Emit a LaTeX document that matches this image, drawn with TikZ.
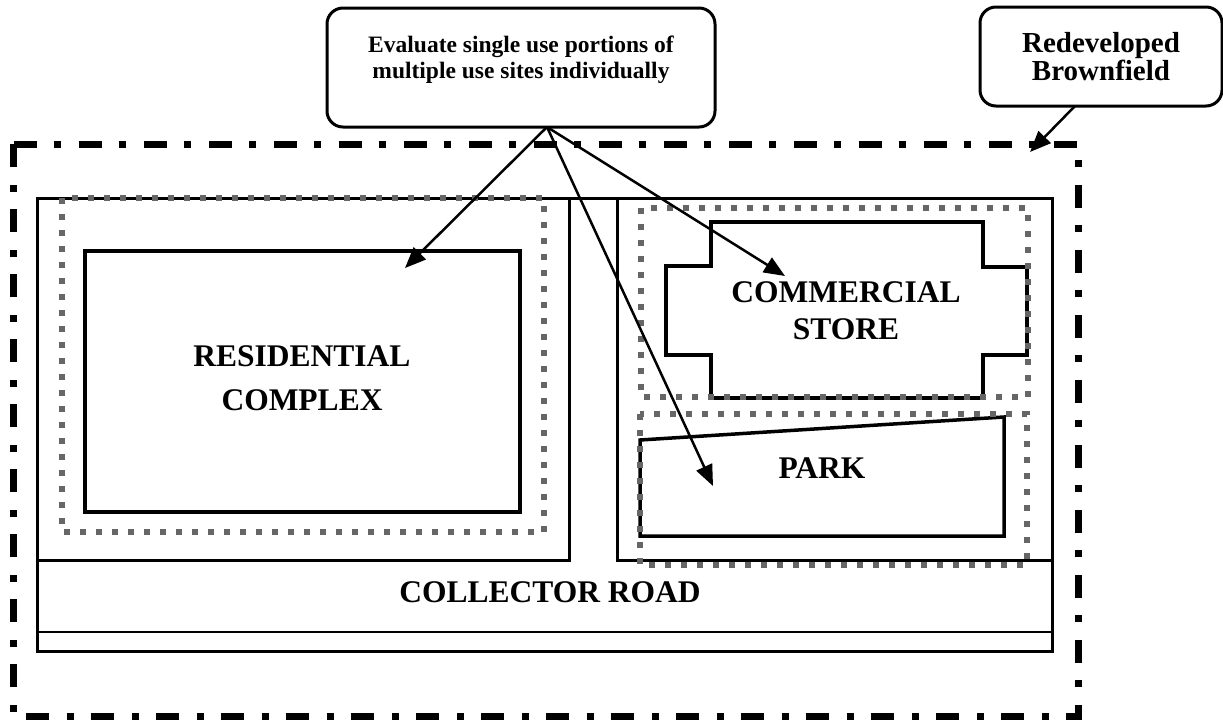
\documentclass[tikz,border=0pt]{standalone}
\usepackage{fontspec}
\setmainfont{Liberation Serif}
\usetikzlibrary{arrows.meta}
\begin{document}
\begin{tikzpicture}[x=1pt,y=-1pt,
  site/.style={line width=3pt},
  bldg/.style={line width=3.5pt, line join=miter},
  hatch/.style={draw=black!60, line width=6pt, dash pattern=on 6pt off 10pt},
  boundary/.style={line width=7pt, dash pattern=on 23pt off 18pt on 7pt off 17pt},
  callout/.style={draw, line width=3pt, rounded corners=16pt},
  lbl/.style={align=center, inner sep=0pt},
  bigfont/.style={font=\bfseries\fontsize{31.5}{44}\selectfont},
  notefont/.style={font=\bfseries\fontsize{23.5}{26}\selectfont},
  pointer/.style={line width=2.5pt, -{Triangle[length=21pt,width=17pt]}}
]
\useasboundingbox (0,0) rectangle (1223,721);

% redeveloped brownfield boundary
\draw[boundary] (13,144) rectangle (1078,716);

% parcels and collector road
\draw[site] (37,651) -- (37,198) -- (1052,198) -- (1052,651) -- cycle;
\draw[site] (37,560) -- (569,560) -- (569,198);
\draw[site] (617,198) -- (617,560) -- (1052,560);
\draw[line width=2.5pt] (37,632) -- (1052,632);

% buildings and park
\draw[bldg] (85,251) rectangle (520,512);
\draw[bldg] (711,222) -- (983,222) -- (983,267) -- (1027,267) -- (1027,355)
  -- (983,355) -- (983,398) -- (711,398) -- (711,355) -- (666,355)
  -- (666,266) -- (711,266) -- cycle;
\draw[bldg] (640,440) -- (1004,417) -- (1004,536) -- (640,536) -- cycle;

% single use portions
\draw[hatch] (62,198) rectangle (544,532);
\draw[hatch] (641,208) rectangle (1028,397);
\draw[hatch] (640,414) rectangle (1027,565);

% labels
\node[lbl, bigfont] (res) at (302,378) {RESIDENTIAL\\COMPLEX};
\node[lbl, font=\bfseries\fontsize{31.5}{37}\selectfont] (com) at (846,311) {COMMERCIAL\\STORE};
\node[lbl, bigfont] (park) at (822,468) {PARK};
\node[lbl, bigfont] (road) at (550,592) {COLLECTOR ROAD};

% callouts
\node[callout, minimum width=388pt, minimum height=119pt] (eval) at (521,67.5) {};
\node[lbl, notefont] (evaltxt) at (521,60) {Evaluate single use portions of\\multiple use sites individually};
\node[callout, minimum width=242pt, minimum height=99pt, align=center,
  font=\bfseries\fontsize{29}{28}\selectfont] (brown) at (1101,56.5) {Redeveloped\\Brownfield};

% pointers
\coordinate (src) at (547,127);
\coordinate (toRes) at (405,268);
\coordinate (toCom) at (785,276);
\coordinate (toPark) at (713,486);
\coordinate (brownFoot) at (1075,106);
\coordinate (toBound) at (1030,152);
\draw[pointer] (src) -- (toRes);
\draw[pointer] (src) -- (toCom);
\draw[pointer] (src) -- (toPark);
\draw[pointer] (brownFoot) -- (toBound);
\end{tikzpicture}
\end{document}
